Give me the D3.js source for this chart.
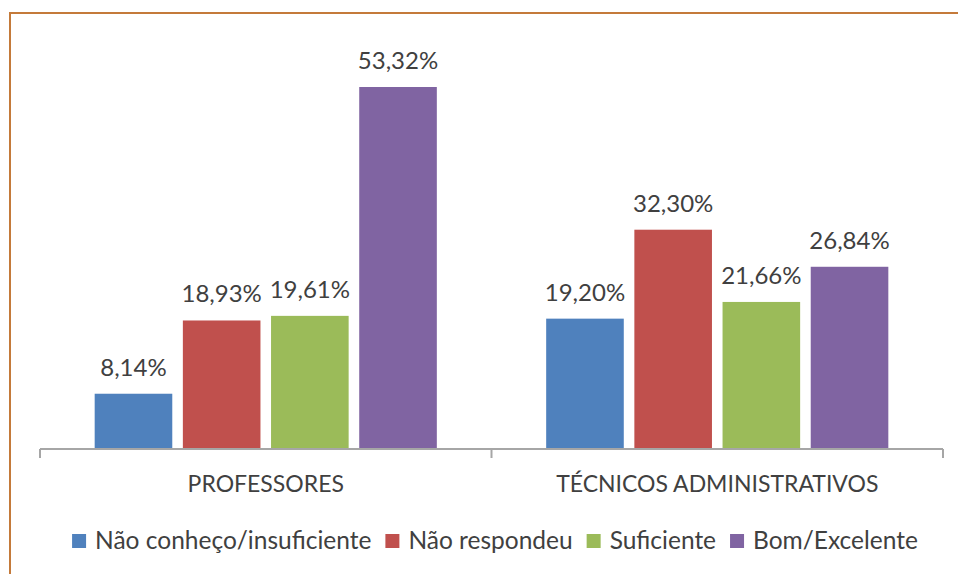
<!DOCTYPE html>
<html>
<head>
<meta charset="utf-8">
<script src="https://cdn.jsdelivr.net/npm/d3@7"></script>
<style>
  body { margin: 0; background: #fff; }
  svg text { font-family: Lato, "Open Sans", sans-serif; fill: #404040; }
</style>
</head>
<body>
<svg id="svg" width="958" height="574"></svg>
<script>
// data
var groups = ["PROFESSORES", "TÉCNICOS ADMINISTRATIVOS"];
var series = ["Não conheço/insuficiente", "Não respondeu", "Suficiente", "Bom/Excelente"];
var professores = [8.14, 18.93, 19.61, 53.32];
var tecnicos = [19.20, 32.30, 21.66, 26.84];
var colors = ["#4f81bd", "#c0504d", "#9bbb59", "#8064a2"];

var values = [professores, tecnicos];

var svg = d3.select("#svg");

// orange frame (only top and left visible in the picture)
svg.append("rect")
    .attr("x", 10).attr("y", 13)
    .attr("width", 960).attr("height", 580)
    .attr("fill", "none")
    .attr("stroke", "#c47a3a")
    .attr("stroke-width", 2);

var left = 40, right = 943, base = 449, topY = 87;

var x0 = d3.scaleBand()
    .domain(groups)
    .range([left, right]);

var x1 = d3.scaleBand()
    .domain(series)
    .range([0, x0.bandwidth()])
    .paddingInner(0.12)
    .paddingOuter(0.62);

var yScale = d3.scaleLinear()
    .domain([0, d3.max(values, function(v){ return d3.max(v); })])
    .range([base, topY]);

var fmt = function(v){ return v.toFixed(2).replace(".", ",") + "%"; };

var g = svg.selectAll("g.grp")
    .data(groups)
    .enter()
    .append("g")
    .attr("class", "grp")
    .attr("transform", function(d){ return "translate(" + x0(d) + ",0)"; });

g.selectAll("rect")
    .data(function(d, i){
        return values[i].map(function(v, j){ return {s: series[j], v: v, c: colors[j]}; });
    })
    .enter()
    .append("rect")
    .attr("x", function(d){ return x1(d.s); })
    .attr("y", function(d){ return yScale(d.v); })
    .attr("width", x1.bandwidth())
    .attr("height", function(d){ return base - yScale(d.v); })
    .attr("fill", function(d){ return d.c; });

g.selectAll("text.val")
    .data(function(d, i){
        return values[i].map(function(v, j){ return {s: series[j], v: v}; });
    })
    .enter()
    .append("text")
    .attr("class", "val")
    .attr("x", function(d){ return x1(d.s) + x1.bandwidth()/2; })
    .attr("y", function(d){ return yScale(d.v) - 18; })
    .attr("text-anchor", "middle")
    .style("font-size", "24px")
    .text(function(d){ return fmt(d.v); });

// axis
var axis = svg.append("g")
    .attr("transform", "translate(0," + base + ")")
    .call(d3.axisBottom(x0).tickSize(0).tickPadding(0).tickFormat(""));
axis.select(".domain").remove();
axis.append("line")
    .attr("x1", left).attr("x2", right)
    .attr("stroke", "#a6a6a6").attr("stroke-width", 2);
axis.selectAll(".bound")
    .data([left, x0(groups[1]), right])
    .enter()
    .append("line")
    .attr("x1", function(d){ return d; })
    .attr("x2", function(d){ return d; })
    .attr("y1", 0).attr("y2", 9)
    .attr("stroke", "#a6a6a6").attr("stroke-width", 2);

svg.selectAll("text.cat")
    .data(groups)
    .enter()
    .append("text")
    .attr("class", "cat")
    .attr("x", function(d){ return x0(d) + x0.bandwidth()/2; })
    .attr("y", 492)
    .attr("text-anchor", "middle")
    .style("font-size", "23px")
    .text(function(d){ return d; });

// legend
var legend = svg.append("g");
var items = legend.selectAll("g")
    .data(series)
    .enter()
    .append("g");
items.append("rect")
    .attr("width", 14).attr("height", 14)
    .attr("y", 534)
    .attr("fill", function(d, i){ return colors[i]; });
items.append("text")
    .attr("x", 23)
    .attr("y", 549)
    .style("font-size", "24.5px")
    .text(function(d){ return d; });

var pos = 0;
items.each(function(){
    var item = d3.select(this);
    item.attr("transform", "translate(" + pos + ",0)");
    pos += 23 + item.select("text").node().getComputedTextLength() + 14;
});
var legendW = pos - 14;
legend.attr("transform", "translate(" + (495 - legendW/2) + ",0)");
</script>
</body>
</html>
